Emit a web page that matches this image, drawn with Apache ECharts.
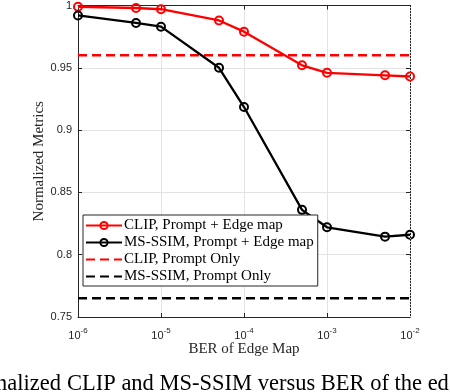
<!DOCTYPE html>
<html>
<head>
<meta charset="utf-8">
<script src="https://cdn.jsdelivr.net/npm/echarts@6/dist/echarts.min.js"></script>
<style>
html, body { margin: 0; padding: 0; background: #fff; }
#chart { width: 450px; height: 392px; }
</style>
</head>
<body>
<div id="chart"></div>
<script>
// BER values on the x axis (log scale)
var berValues = [1e-6, 5e-6, 1e-5, 5e-5, 1e-4, 5e-4, 1e-3, 5e-3, 1e-2];
var clipEdge = [0.999, 0.998, 0.997, 0.988, 0.979, 0.952, 0.946, 0.944, 0.943];
var ssimEdge = [0.992, 0.986, 0.983, 0.950, 0.9185, 0.836, 0.822, 0.8145, 0.816];
var clipPromptOnly = [0.960, 0.960];
var ssimPromptOnly = [0.765, 0.765];
var berRange = [1e-6, 1e-2];
var seriesNames = ['CLIP, Prompt + Edge map', 'MS-SSIM, Prompt + Edge map', 'CLIP, Prompt Only', 'MS-SSIM, Prompt Only'];
var yTicks = [0.75, 0.8, 0.85, 0.9, 0.95, 1];

// minor log grid positions (2..9 in each decade)
var minorTicks = [];
[1e-6, 1e-5, 1e-4, 1e-3].forEach(function(d) {
    for (var k = 2; k <= 9; k++) minorTicks.push(k * d);
});

var AXIS_COLOR = '#262626';
var SERIF = '"Liberation Serif", "Times New Roman", serif';
var SANS = '"Liberation Sans", Arial, sans-serif';
var NO_FILL = 'rgba(0,0,0,0)';

function pairs(xs, ys) {
    return xs.map(function(x, i) { return [x, ys[i]]; });
}

var chart = echarts.init(document.getElementById('chart'));

var logAxis = {
    type: 'log',
    logBase: 10,
    min: berRange[0],
    max: berRange[1],
    gridIndex: 0
};

var option = {
    animation: false,
    backgroundColor: '#fff',
    grid: { left: 78, right: 40, top: 5, bottom: 75 },
    legend: {
        data: seriesNames,
        orient: 'vertical',
        left: 83,
        top: 215,
        backgroundColor: '#fff',
        borderColor: AXIS_COLOR,
        borderWidth: 1,
        borderRadius: 0,
        padding: [3, 4, 2, 2],
        itemWidth: 36,
        itemHeight: 9,
        itemGap: 2,
        textStyle: { fontFamily: SERIF, fontSize: 15, lineHeight: 15, color: '#000', padding: [0, 0, 0, -3] }
    },
    xAxis: [
        Object.assign({}, logAxis, {
            position: 'bottom',
            name: 'BER of Edge Map',
            nameLocation: 'middle',
            nameGap: 25,
            nameMoveOverlap: false,
            nameTextStyle: { fontFamily: SERIF, fontSize: 15, color: AXIS_COLOR },
            axisLine: { show: true, lineStyle: { color: AXIS_COLOR, width: 1 } },
            axisTick: { show: true, inside: true, length: 4, lineStyle: { color: AXIS_COLOR } },
            axisLabel: {
                margin: 10,
                formatter: function(v) {
                    return '{b|10}{s|' + Math.round(Math.log10(v)) + '}';
                },
                rich: {
                    b: { fontFamily: SANS, fontSize: 11, color: AXIS_COLOR, verticalAlign: 'bottom' },
                    s: { fontFamily: SANS, fontSize: 8, color: AXIS_COLOR, verticalAlign: 'bottom', padding: [0, 0, 6, 0] }
                }
            },
            splitLine: { show: true, lineStyle: { color: '#e3e3e3', width: 1 } }
        }),
        Object.assign({}, logAxis, {
            position: 'top',
            axisLine: { show: true, lineStyle: { color: AXIS_COLOR, width: 1 } },
            axisTick: { show: true, inside: true, length: 4, lineStyle: { color: AXIS_COLOR } },
            axisLabel: { show: false },
            splitLine: { show: false }
        })
    ],
    yAxis: [
        {
            type: 'value',
            min: yTicks[0],
            max: yTicks[yTicks.length - 1],
            interval: 0.05,
            name: 'Normalized Metrics',
            nameLocation: 'middle',
            nameGap: 31,
            nameMoveOverlap: false,
            nameTextStyle: { fontFamily: SERIF, fontSize: 15, color: AXIS_COLOR },
            axisLine: { show: true, lineStyle: { color: AXIS_COLOR, width: 1 } },
            axisTick: { show: true, inside: true, length: 4, lineStyle: { color: AXIS_COLOR } },
            axisLabel: {
                margin: 6,
                fontFamily: SANS,
                fontSize: 11,
                color: AXIS_COLOR,
                formatter: function(v) { return String(Math.round(v * 100) / 100); }
            },
            splitLine: { show: true, lineStyle: { color: '#e3e3e3', width: 1 } }
        },
        {
            type: 'value',
            min: yTicks[0],
            max: yTicks[yTicks.length - 1],
            interval: 0.05,
            position: 'right',
            axisLine: { show: true, lineStyle: { color: AXIS_COLOR, width: 1 } },
            axisTick: { show: true, inside: true, length: 4, lineStyle: { color: AXIS_COLOR } },
            axisLabel: { show: false },
            splitLine: { show: false }
        }
    ],
    series: [
        {
            name: 'minor grid',
            type: 'line',
            data: [],
            silent: true,
            markLine: {
                silent: true,
                symbol: ['none', 'none'],
                label: { show: false },
                lineStyle: { color: '#cfcfcf', type: [1, 2], width: 1 },
                data: minorTicks.map(function(v) { return { xAxis: v }; })
            }
        },
        {
            name: seriesNames[2],
            type: 'line',
            data: pairs(berRange, clipPromptOnly),
            symbol: 'none',
            color: '#ff0000',
            lineStyle: { color: '#ff0000', width: 2.5, type: [9, 5] },
            itemStyle: { color: NO_FILL, borderColor: NO_FILL, borderWidth: 0 }
        },
        {
            name: seriesNames[3],
            type: 'line',
            data: pairs(berRange, ssimPromptOnly),
            symbol: 'none',
            color: '#000000',
            lineStyle: { color: '#000000', width: 2.5, type: [9, 5] },
            itemStyle: { color: NO_FILL, borderColor: NO_FILL, borderWidth: 0 }
        },
        {
            name: seriesNames[0],
            type: 'line',
            data: pairs(berValues, clipEdge),
            symbol: 'circle',
            symbolSize: 8,
            color: '#ff0000',
            lineStyle: { color: '#ff0000', width: 2.3 },
            itemStyle: { color: NO_FILL, borderColor: '#ff0000', borderWidth: 2 }
        },
        {
            name: seriesNames[1],
            type: 'line',
            data: pairs(berValues, ssimEdge),
            symbol: 'circle',
            symbolSize: 8,
            color: '#000000',
            lineStyle: { color: '#000000', width: 2.3 },
            itemStyle: { color: NO_FILL, borderColor: '#000000', borderWidth: 2 }
        }
    ],
    graphic: [
        {
            type: 'text',
            x: 61,
            y: 396,
            style: { text: 'Normalized', font: '22.5px ' + SERIF, fill: '#000', textAlign: 'right', textVerticalAlign: 'bottom' }
        },
        {
            type: 'text',
            x: 67,
            y: 396,
            style: { text: 'CLIP and MS-SSIM versus BER of the edge map', font: '22.5px ' + SERIF, fill: '#000', textAlign: 'left', textVerticalAlign: 'bottom' }
        }
    ]
};

chart.setOption(option);
</script>
</body>
</html>
